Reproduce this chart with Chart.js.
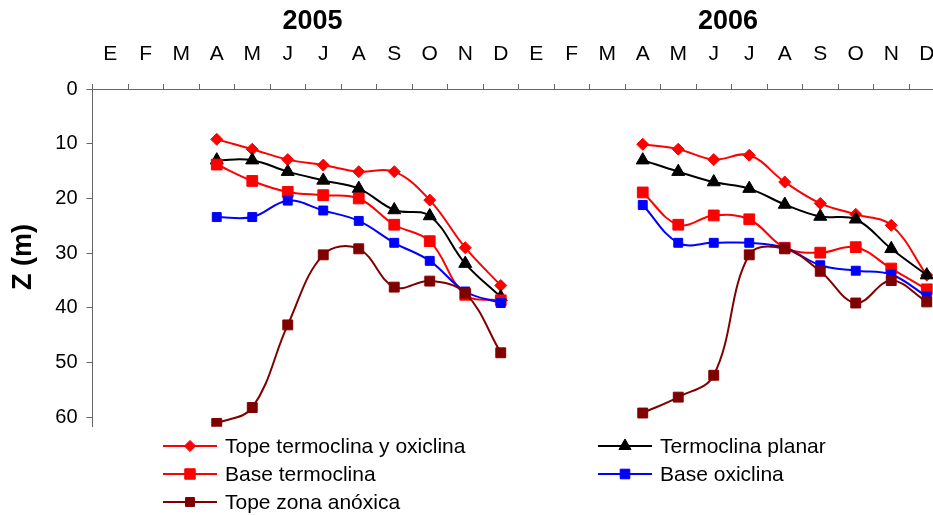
<!DOCTYPE html>
<html>
<head>
<meta charset="utf-8">
<script src="https://cdn.jsdelivr.net/npm/chart.js@4.4.1/dist/chart.umd.min.js"></script>
<style>
  html, body { margin: 0; padding: 0; background: #fff; overflow: hidden; width: 933px; height: 515px; }
  canvas { display: block; }
</style>
</head>
<body>
<canvas id="c" width="960" height="515"></canvas>
<script>
// Month initials (Spanish) and the two sampled years
const MONTHS = ['E', 'F', 'M', 'A', 'M', 'J', 'J', 'A', 'S', 'O', 'N', 'D'];
const YEARS = ['2005', '2006'];
const FIRST_SAMPLE_MONTH = 3; // sampling runs April..December each year

// Depths (m), April..December
const topeTermoOxi2005 = [9.2, 11.0, 12.9, 13.9, 15.1, 15.1, 20.3, 29.0, 35.9];
const topeTermoOxi2006 = [10.1, 11.0, 12.9, 12.1, 17.0, 20.9, 22.9, 24.9, 34.0];

const termoPlanar2005 = [13.0, 13.0, 15.1, 16.7, 18.2, 22.1, 23.2, 31.9, 38.0];
const termoPlanar2006 = [13.0, 15.1, 17.0, 18.2, 21.1, 23.3, 23.8, 29.2, 34.0];

const baseTermo2005 = [13.8, 16.8, 18.8, 19.4, 20.0, 24.8, 27.8, 37.6, 38.6];
const baseTermo2006 = [18.9, 24.8, 23.1, 23.8, 29.0, 29.9, 28.9, 32.8, 36.6];

const baseOxi2005 = [23.4, 23.4, 20.4, 22.2, 24.1, 28.1, 31.4, 37.0, 39.1];
const baseOxi2006 = [21.2, 28.1, 28.1, 28.1, 29.0, 32.2, 33.2, 33.9, 37.9];

const topeAnox2005 = [61.1, 58.2, 43.1, 30.3, 29.2, 36.2, 35.1, 37.3, 48.2];
const topeAnox2006 = [59.2, 56.3, 52.3, 30.3, 29.2, 33.3, 39.1, 35.0, 38.9];

const SERIES_NAMES = [
  'Tope termoclina y oxiclina',
  'Termoclina planar',
  'Base termoclina',
  'Base oxiclina',
  'Tope zona anóxica'
];

const Y_TICKS = [0, 10, 20, 30, 40, 50, 60];

// Two-year month axis
const monthLabels = YEARS.flatMap(() => MONTHS);

function twoYears(first, second) {
  const out = new Array(monthLabels.length).fill(null);
  first.forEach((v, i) => { out[FIRST_SAMPLE_MONTH + i] = v; });
  second.forEach((v, i) => { out[MONTHS.length + FIRST_SAMPLE_MONTH + i] = v; });
  return out;
}

const FONT = "'Liberation Sans', Arial, Helvetica, sans-serif";
Chart.defaults.font.family = FONT;
Chart.defaults.color = '#000';

function series(label, values, color, style, radius, order) {
  return {
    label, data: values, order,
    borderColor: color, backgroundColor: color,
    pointBackgroundColor: color, pointBorderColor: color,
    borderWidth: 2, pointBorderWidth: 1,
    pointStyle: style, pointRadius: radius,
    tension: 0.38, spanGaps: false, fill: false
  };
}

const datasets = [
  series(SERIES_NAMES[0], twoYears(topeTermoOxi2005, topeTermoOxi2006), '#FF0000', 'rectRot', 6.0, 4),
  series(SERIES_NAMES[1], twoYears(termoPlanar2005, termoPlanar2006), '#000000', 'triangle', 7.5, 3),
  series(SERIES_NAMES[2], twoYears(baseTermo2005, baseTermo2006), '#FF0000', 'rect', 7.6, 2),
  series(SERIES_NAMES[3], twoYears(baseOxi2005, baseOxi2006), '#0000FF', 'rect', 6.3, 1),
  series(SERIES_NAMES[4], twoYears(topeAnox2005, topeAnox2006), '#800000', 'rect', 7.0, 0)
];

// Year headings, depth-axis title and the two-column key
const decorations = {
  id: 'decorations',
  afterDraw(chart) {
    const { ctx, scales } = chart;
    const x = scales.x;
    ctx.save();
    ctx.fillStyle = '#000';
    ctx.textAlign = 'center';
    ctx.textBaseline = 'middle';
    ctx.font = `bold 27px ${FONT}`;
    ctx.fillText(YEARS[0], x.getPixelForValue(5.7), 22);
    ctx.fillText(YEARS[1], x.getPixelForValue(17.4), 22);

    ctx.save();
    ctx.translate(24, 257);
    ctx.rotate(-Math.PI / 2);
    ctx.fillText('Z (m)', 0, 0);
    ctx.restore();

    const cols = [163, 598];
    const rows = [446, 474, 502];
    const keyRadius = [5.6, 7.0, 7.4, 6.8, 6.3];
    chart.data.datasets.forEach((ds, i) => {
      const cx = cols[i % 2];
      const cy = rows[Math.floor(i / 2)];
      ctx.strokeStyle = ds.borderColor;
      ctx.lineWidth = 2;
      ctx.beginPath();
      ctx.moveTo(cx, cy);
      ctx.lineTo(cx + 54, cy);
      ctx.stroke();
      ctx.fillStyle = ds.borderColor;
      ctx.lineWidth = 1;
      Chart.helpers.drawPoint(ctx, {
        pointStyle: ds.pointStyle, radius: keyRadius[i], rotation: 0, borderWidth: 1
      }, cx + 27, cy);
      ctx.fillStyle = '#000';
      ctx.textAlign = 'left';
      ctx.font = `21px ${FONT}`;
      ctx.fillText(ds.label, cx + 62, cy + 1);
    });
    ctx.restore();
  }
};

new Chart(document.getElementById('c'), {
  type: 'line',
  data: { labels: monthLabels, datasets },
  options: {
    responsive: false,
    animation: false,
    devicePixelRatio: 1,
    layout: { padding: { left: 0, top: 0, right: 15.5, bottom: 88.3 } },
    plugins: { legend: { display: false }, tooltip: { enabled: false } },
    scales: {
      x: {
        type: 'category',
        position: 'top',
        offset: true,
        grid: { offset: true, drawOnChartArea: false, drawTicks: true, tickLength: 5, color: '#666', lineWidth: 1 },
        border: { display: true, color: '#666', width: 1 },
        ticks: { font: { size: 21 }, color: '#000', padding: 17, maxRotation: 0, autoSkip: false },
        afterFit(s) { s.height = 89; }
      },
      y: {
        type: 'linear',
        position: 'left',
        reverse: true,
        min: 0,
        max: 61.7,
        afterBuildTicks(s) { s.ticks = Y_TICKS.map(v => ({ value: v })); },
        ticks: { font: { size: 20 }, color: '#000', padding: 9 },
        grid: { drawOnChartArea: false, drawTicks: true, tickLength: 6, color: '#666', lineWidth: 1 },
        border: { display: true, color: '#666', width: 1 },
        afterFit(s) { s.width = 92.5; }
      }
    }
  },
  plugins: [decorations]
});
</script>
</body>
</html>
